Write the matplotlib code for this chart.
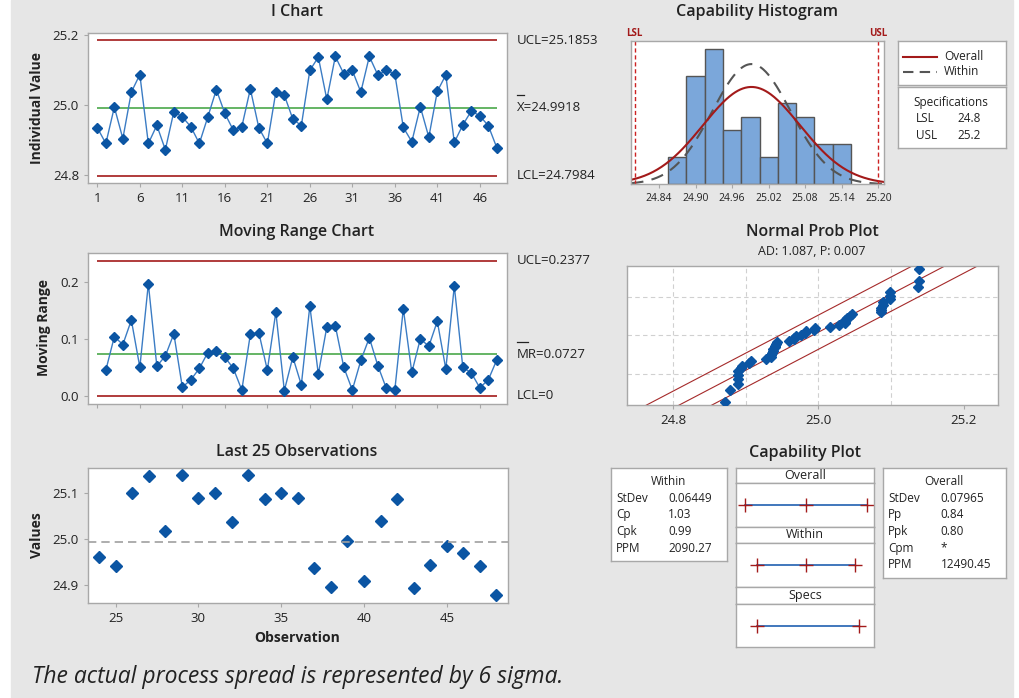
import numpy as np
import matplotlib.pyplot as plt
from matplotlib.patches import Rectangle
from matplotlib.lines import Line2D
from matplotlib.transforms import blended_transform_factory, offset_copy
from statistics import NormalDist

plt.rcParams['font.family'] = ['Open Sans', 'DejaVu Sans']

# individual measurements, observations 1..48
values = [24.935, 24.890, 24.994, 24.904, 25.037, 25.087, 24.890, 24.942,
          24.872, 24.981, 24.966, 24.938, 24.890, 24.966, 25.044, 24.976,
          24.928, 24.938, 25.046, 24.935, 24.890, 25.037, 25.028, 24.960,
          24.941, 25.099, 25.137, 25.016, 25.139, 25.089, 25.099, 25.037,
          25.139, 25.086, 25.099, 25.089, 24.936, 24.895, 24.995, 24.908,
          25.039, 25.086, 24.893, 24.943, 24.983, 24.969, 24.941, 24.878]

i_ucl, i_cl, i_lcl = 25.1853, 24.9918, 24.7984
mr_ucl, mr_cl, mr_lcl = 0.2377, 0.0727, 0.0
lsl, usl = 24.8, 25.2
sd_within, sd_overall = 0.06449, 0.07965

within_rows = [("StDev", "0.06449"), ("Cp", "1.03"), ("Cpk", "0.99"), ("PPM", "2090.27")]
overall_rows = [("StDev", "0.07965"), ("Pp", "0.84"), ("Ppk", "0.80"), ("Cpm", "*"),
                ("PPM", "12490.45")]
ad_text = "AD: 1.087, P: 0.007"
footnote = "The actual process spread is represented by 6 sigma."

BG = '#e6e6e6'
SPINE = '#a8a8a8'
TXT = '#222222'
BLUE = '#0b55a3'
LINE_BLUE = '#3b7cc4'
RED = '#a31a1a'
GREEN = '#4aa84a'
BAR = '#7ba7da'

W, H = 1020, 698
fig = plt.figure(figsize=(W / 100, H / 100), dpi=100, facecolor='white')
fig.patches.append(Rectangle((11 / W, 0), 1002 / W, 1, transform=fig.transFigure,
                             color=BG, zorder=-10))


def box(l, t, r, b):
    ax = fig.add_axes([l / W, 1 - b / H, (r - l) / W, (b - t) / H])
    for s in ax.spines.values():
        s.set_color(SPINE)
        s.set_linewidth(1)
    ax.tick_params(colors=SPINE, labelcolor=TXT, labelsize=9.5, length=3, width=0.8)
    return ax


def ftext(x, y, s, **kw):
    kw.setdefault('color', TXT)
    kw.setdefault('va', 'center')
    return fig.text(x / W, 1 - y / H, s, **kw)


def limit_label(ax, y, s, bar_width=0.0):
    ax.annotate(s, xy=(1, y), xycoords=('axes fraction', 'data'), xytext=(7, 0),
                textcoords='offset points', va='center', fontsize=9.5, color=TXT,
                annotation_clip=False)
    if bar_width:
        # overbar for X-bar / MR-bar, drawn as a short line above the symbol
        base = blended_transform_factory(ax.transAxes, ax.transData)
        trans = offset_copy(base, fig=fig, y=9, units='points')
        x0 = 1 + 10.5 / (ax.get_position().width * W)
        ax.add_line(Line2D([x0, x0 + bar_width], [y, y], transform=trans,
                           color=TXT, lw=0.9, clip_on=False))


def title(x, y, s):
    ftext(x, y, s, ha='center', fontsize=11.5, weight='semibold')


obs = np.arange(1, len(values) + 1)

# I chart
ax1 = box(88, 33, 507, 183)
ax1.plot(obs, values, color=LINE_BLUE, lw=1, marker='D', ms=5, mfc=BLUE, mec=BLUE, zorder=3)
ax1.hlines([i_ucl, i_lcl], 1, 48, color=RED, lw=1.2)
ax1.hlines(i_cl, 1, 48, color=GREEN, lw=1.2)
ax1.set_xlim(-0.1, 49.2)
ax1.set_ylim(24.777, 25.206)
ax1.set_xticks(range(1, 49, 5))
ax1.set_yticks([24.8, 25.0, 25.2])
ax1.yaxis.set_major_formatter('{x:.1f}')
limit_label(ax1, i_ucl, f"UCL={i_ucl}")
limit_label(ax1, i_cl, f"X={i_cl}", bar_width=0.016)
limit_label(ax1, i_lcl, f"LCL={i_lcl}")
title(297, 12, "I Chart")
ftext(37, 108, "Individual Value", ha='center', rotation=90, fontsize=10, weight='bold')

# moving range chart
mr = np.abs(np.diff(values))
ax2 = box(88, 252.5, 507, 404)
ax2.plot(obs[1:], mr, color=LINE_BLUE, lw=1, marker='D', ms=5, mfc=BLUE, mec=BLUE, zorder=3)
ax2.hlines([mr_ucl, mr_lcl], 1, 48, color=RED, lw=1.2)
ax2.hlines(mr_cl, 1, 48, color=GREEN, lw=1.2)
ax2.set_xlim(-0.1, 49.2)
ax2.set_ylim(-0.0146, 0.252)
ax2.set_xticks(range(1, 49, 5))
ax2.set_xticklabels([])
ax2.set_yticks([0.0, 0.1, 0.2])
ax2.yaxis.set_major_formatter('{x:.1f}')
limit_label(ax2, mr_ucl, f"UCL={mr_ucl}")
limit_label(ax2, mr_cl, f"MR={mr_cl}", bar_width=0.024)
limit_label(ax2, mr_lcl, "LCL=0")
title(297, 232, "Moving Range Chart")
ftext(44, 328, "Moving Range", ha='center', rotation=90, fontsize=10, weight='bold')

# last 25 observations
ax3 = box(88, 467.7, 507.7, 602.7)
ax3.plot(obs[-25:], values[-25:], ls='none', marker='D', ms=6, mfc=BLUE, mec=BLUE)
ax3.axhline(i_cl, color='#a0a0a0', lw=1.2, ls=(0, (5, 3)))
ax3.set_xlim(23.33, 48.68)
ax3.set_ylim(24.861, 25.154)
ax3.set_xticks(range(25, 46, 5))
ax3.set_yticks([24.9, 25.0, 25.1])
ax3.yaxis.set_major_formatter('{x:.1f}')
title(297, 452, "Last 25 Observations")
ftext(37, 535, "Values", ha='center', rotation=90, fontsize=10, weight='bold')
ftext(297, 638, "Observation", ha='center', fontsize=10, weight='bold')

# capability histogram
ax4 = box(631, 40.7, 884.3, 184.3)
bins = np.linspace(24.855, 25.155, 11)
ax4.hist(values, bins=bins, color=BAR, edgecolor='#555555', lw=1)
xs = np.linspace(24.794, 25.21, 300)
scale = len(values) * (bins[1] - bins[0])
pdf_o = [NormalDist(i_cl, sd_overall).pdf(x) * scale for x in xs]
pdf_w = [NormalDist(i_cl, sd_within).pdf(x) * scale for x in xs]
ax4.plot(xs, pdf_w, color='#555555', lw=1.5, ls=(0, (6, 4)))
ax4.plot(xs, pdf_o, color=RED, lw=1.5)
ax4.axvline(lsl, color='#cc2222', lw=1, ls=(0, (3, 2)))
ax4.axvline(usl, color='#cc2222', lw=1, ls=(0, (3, 2)))
ax4.set_xlim(24.794, 25.2099)
ax4.set_ylim(0, 10.64)
ax4.set_yticks([])
ax4.set_xticks(np.round(np.arange(24.84, 25.21, 0.06), 2))
ax4.xaxis.set_major_formatter('{x:.2f}')
ax4.tick_params(labelsize=7.5)
ftext(634, 33, "LSL", ha='center', fontsize=7, weight='bold', color=RED)
ftext(878, 33, "USL", ha='center', fontsize=7, weight='bold', color=RED)
title(757, 12, "Capability Histogram")

# legend and specification boxes
ax5 = box(897.7, 40.7, 1006, 85)
ax5.set_xticks([])
ax5.set_yticks([])
ax5.set_xlim(0, 1)
ax5.set_ylim(0, 1)
ax5.plot([0.05, 0.36], [0.64, 0.64], color=RED, lw=1.5)
ax5.plot([0.05, 0.36], [0.30, 0.30], color='#555555', lw=1.5, ls=(0, (5, 3)))
ftext(944, 56.7, "Overall", fontsize=8.5)
ftext(944, 71.7, "Within", fontsize=8.5)

ax6 = box(897.7, 87.3, 1006, 148.3)
ax6.set_xticks([])
ax6.set_yticks([])
ftext(951, 102.7, "Specifications", ha='center', fontsize=8.5)
ftext(916, 119, "LSL", fontsize=8.5)
ftext(957, 119, f"{lsl}", fontsize=8.5)
ftext(916, 135.7, "USL", fontsize=8.5)
ftext(957, 135.7, f"{usl}", fontsize=8.5)

# normal probability plot
n = len(values)
pp = (np.arange(1, n + 1) - 0.3) / (n + 0.4)
zs = [NormalDist().inv_cdf(p) for p in pp]
ax7 = box(627.3, 265.7, 997.7, 405)
zline = np.linspace(-2.4, 2.4, 50)
fit = i_cl + sd_overall * zline
ci_half = 0.045
for off in (-ci_half, 0, ci_half):
    ax7.plot(fit + off, zline, color='#a52a2a', lw=0.8)
for gx in (24.8, 24.9, 25.0, 25.1):
    ax7.axvline(gx, color='#d0d0d0', lw=0.8, ls=(0, (4, 3)), zorder=0)
for gz in (-1.2816, 0, 1.2816):
    ax7.axhline(gz, color='#d0d0d0', lw=0.8, ls=(0, (4, 3)), zorder=0)
ax7.plot(np.sort(values), zs, ls='none', marker='D', ms=5.3, mfc=BLUE, mec=BLUE, zorder=3)
ax7.set_xlim(24.737, 25.247)
ax7.set_ylim(-2.3, 2.3)
ax7.set_yticks([])
ax7.set_xticks([24.8, 25.0, 25.2])
ax7.xaxis.set_major_formatter('{x:.1f}')
title(812, 232, "Normal Prob Plot")
ftext(812, 251.7, ad_text, ha='center', fontsize=9)

# capability plot
title(805, 453, "Capability Plot")


def stats_box(l, t, r, b, head, rows, xl, xv):
    ax = box(l, t, r, b)
    ax.set_xticks([])
    ax.set_yticks([])
    ftext((l + r) / 2, 481.7, head, ha='center', fontsize=8.5)
    for k, (lab, val) in enumerate(rows):
        ftext(xl, 498.3 + k * 16.6, lab, fontsize=8.5)
        ftext(xv, 498.3 + k * 16.6, val, fontsize=8.5)


stats_box(610.7, 467.7, 727.3, 561, "Within", within_rows, 616, 668)
stats_box(882.7, 467.7, 1006, 577.7, "Overall", overall_rows, 888, 940.7)

bars = [("Overall", 467.7, 483.3, 526.7, [i_cl - 3 * sd_overall, i_cl, i_cl + 3 * sd_overall]),
        ("Within", 526.7, 543.3, 586.7, [i_cl - 3 * sd_within, i_cl, i_cl + 3 * sd_within]),
        ("Specs", 586.7, 604, 647.3, [lsl, usl])]
for head, t, m, b, pts in bars:
    hx = box(735.7, t, 874.3, m)
    hx.set_xticks([])
    hx.set_yticks([])
    ftext(805, (t + m) / 2, head, ha='center', fontsize=9)
    px = box(735.7, m, 874.3, b)
    px.set_xticks([])
    px.set_yticks([])
    px.set_xlim(24.716, 25.26)
    px.set_ylim(0, 1)
    px.plot([pts[0], pts[-1]], [0.5, 0.5], color='#2060b0', lw=1.2)
    px.plot(pts, [0.5] * len(pts), ls='none', marker='+', ms=10, mew=1, color=RED)

ftext(32, 677, footnote, fontsize=16.5, style='italic')

fig.savefig('out.png', dpi=100, facecolor=fig.get_facecolor())
